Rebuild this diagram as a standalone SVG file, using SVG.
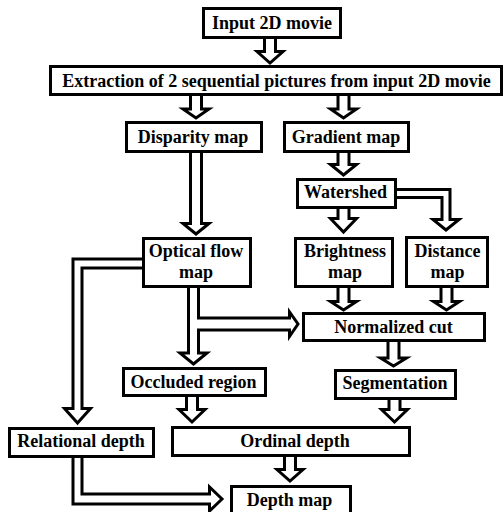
<svg xmlns="http://www.w3.org/2000/svg" width="504" height="512" viewBox="0 0 504 512">
<style>
.box{fill:#fff;stroke:#000;stroke-width:3}
.arr{fill:#fff;stroke:#000;stroke-width:3;stroke-linejoin:miter}
.t{font-family:'Liberation Serif','DejaVu Serif',serif;font-weight:700;font-size:18px;text-anchor:middle;fill:#000}
</style>
<rect width="504" height="512" fill="#fff"/>
<g id="connectors">
<path class="arr" d="M264.5,38 V51.5 H257 L270,63 L283,51.5 H275.5 V38"/>
<path class="arr" d="M190.5,95 V109 H183 L196,118 L209,109 H201.5 V95"/>
<path class="arr" d="M338,95 V109 H330.5 L343.5,118 L356.5,109 H349 V95"/>
<path class="arr" d="M190.5,152 V223.5 H183 L196,234 L209,223.5 H201.5 V152"/>
<path class="arr" d="M338,152 V164.5 H330.5 L343.5,175 L356.5,164.5 H349 V152"/>
<path class="arr" d="M338,208 V218.5 H330.5 L343.5,232 L356.5,218.5 H349 V208"/>
<path class="arr" d="M395,189.5 H450 V219.5 H459 L446,230 L433,219.5 H442 V197.5 H395"/>
<path class="arr" d="M338,287 V301.5 H330.5 L343.5,310 L356.5,301.5 H349 V287"/>
<path class="arr" d="M441,287 V301.5 H433.5 L446.5,310 L459.5,301.5 H452 V287"/>
<path class="arr" d="M188.5,287 V353 H180 L193.5,364 L207,353 H198.5 V330 H289.5 V336.5 L298,324 L289.5,312 V318 H198.5 V287"/>
<path class="arr" d="M388,341 V358 H380.5 L393.5,366 L406.5,358 H399 V341"/>
<path class="arr" d="M186.5,396 V409.5 H179 L192,422 L205,409.5 H197.5 V396"/>
<path class="arr" d="M389,399 V409.5 H381.5 L394.5,422 L407.5,409.5 H400 V399"/>
<path class="arr" d="M284.5,456 V469.5 H277 L290,481 L303,469.5 H295.5 V456"/>
<path class="arr" d="M144,259 H73 V408.5 H64.5 L77.5,423 L90.5,408.5 H82 V268 H144"/>
<path class="arr" d="M73,457 V504 H209.5 V511 L222,499 L209.5,487 V494 H82 V457"/>
</g>
<g id="input"><rect class="box" x="203.5" y="8.5" width="137" height="29"/><text class="t" x="272" y="29">Input 2D movie</text></g>
<g id="extraction"><rect class="box" x="50.5" y="66.5" width="451" height="28"/><text class="t" x="276.5" y="87">Extraction of 2 sequential pictures from input 2D movie</text></g>
<g id="disparity"><rect class="box" x="126.5" y="122.5" width="135" height="29"/><text class="t" x="193" y="143">Disparity map</text></g>
<g id="gradient"><rect class="box" x="284.5" y="122.5" width="124" height="29"/><text class="t" x="346" y="143">Gradient map</text></g>
<g id="watershed"><rect class="box" x="297.5" y="179.5" width="98" height="28"/><text class="t" x="345.5" y="198">Watershed</text></g>
<g id="optical"><rect class="box" x="143.5" y="238.5" width="107" height="48"/><text class="t" x="196" y="257">Optical flow</text><text class="t" x="196" y="278">map</text></g>
<g id="brightness"><rect class="box" x="295.5" y="238.5" width="97" height="48"/><text class="t" x="345" y="257">Brightness</text><text class="t" x="345" y="278">map</text></g>
<g id="distance"><rect class="box" x="406.5" y="237.5" width="81" height="49"/><text class="t" x="447.5" y="257">Distance</text><text class="t" x="447.5" y="278">map</text></g>
<g id="ncut"><rect class="box" x="303.5" y="313.5" width="181" height="27"/><text class="t" x="393.5" y="333">Normalized cut</text></g>
<g id="occluded"><rect class="box" x="123.5" y="368.5" width="142" height="27"/><text class="t" x="193.5" y="388">Occluded region</text></g>
<g id="segmentation"><rect class="box" x="335.5" y="370.5" width="120" height="28"/><text class="t" x="395" y="389">Segmentation</text></g>
<g id="relational"><rect class="box" x="9.5" y="428.5" width="144" height="28"/><text class="t" x="81" y="447">Relational depth</text></g>
<g id="ordinal"><rect class="box" x="172.5" y="427.5" width="237" height="28"/><text class="t" x="295" y="447">Ordinal depth</text></g>
<g id="depthmap"><rect class="box" x="231.5" y="486.5" width="119" height="30"/><text class="t" x="289.5" y="506">Depth map</text></g>
</svg>
